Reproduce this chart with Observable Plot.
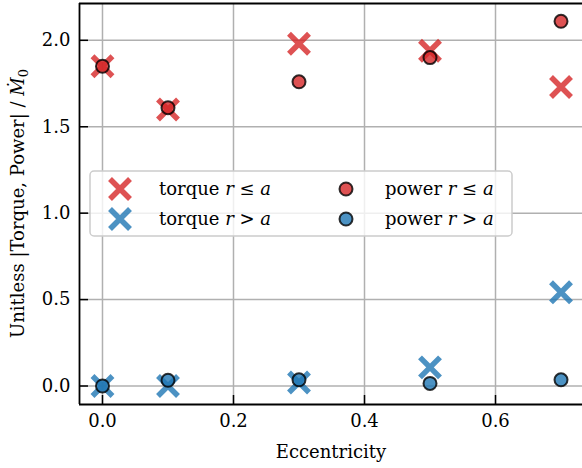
<!DOCTYPE html>
<html><head><meta charset="utf-8">
<script src="https://cdn.jsdelivr.net/npm/d3@7"></script>
<script src="https://cdn.jsdelivr.net/npm/@observablehq/plot@0.6"></script>
<style>body{margin:0;background:#fff} svg{display:block}</style>
</head><body><div id="chart"></div>
<script>
// ---- data ----
const eccentricity = [0, 0.1, 0.3, 0.5, 0.7];
const torqueInner = [1.85, 1.60, 1.98, 1.94, 1.73];
const powerInner  = [1.85, 1.61, 1.76, 1.90, 2.11];
const torqueOuter = [0.00, 0.00, 0.02, 0.108, 0.542];
const powerOuter  = [0.00, 0.033, 0.036, 0.015, 0.036];
const regions = ["r ≤ a", "r > a"];
const regionColors = ["#d62728", "#1f77b4"];
const xTicks = [0, 0.2, 0.4, 0.6];
const xTickLabels = ["0.0", "0.2", "0.4", "0.6"];
const yTicks = [0, 0.5, 1, 1.5, 2];
const yTickLabels = ["0.0", "0.5", "1.0", "1.5", "2.0"];
const xLabel = "Eccentricity";

// ---- tables ----
const torqueRows = eccentricity.flatMap((e, i) => [
  {e, v: torqueInner[i], region: regions[0]},
  {e, v: torqueOuter[i], region: regions[1]}
]);
const powerRows = eccentricity.flatMap((e, i) => [
  {e, v: powerInner[i], region: regions[0]},
  {e, v: powerOuter[i], region: regions[1]}
]);

const W = 582, H = 468, mL = 79, mR = 0, mT = 3, mB = 64;
const innerW = W - mL - mR, innerH = H - mT - mB;
const xDom = [-0.0351, 0.7328], yDom = [-0.107, 2.213];
const FONT = "DejaVu Serif";
const black = "#000";

const plot = Plot.plot({
  width: W, height: H,
  marginLeft: mL, marginRight: mR, marginTop: mT, marginBottom: mB,
  style: {fontFamily: FONT, fontSize: "18px", color: "#000", background: "#fff", overflow: "visible"},
  x: {domain: xDom},
  y: {domain: yDom},
  color: {domain: regions, range: regionColors},
  marks: [
    Plot.gridX(xTicks, {stroke: "#b0b0b0", strokeOpacity: 1, strokeWidth: 1.5}),
    Plot.gridY(yTicks, {stroke: "#b0b0b0", strokeOpacity: 1, strokeWidth: 1.5}),
    Plot.dot(torqueRows, {x: "e", y: "v", symbol: "times", r: 9.15, stroke: "region", strokeWidth: 5.5, strokeOpacity: 0.8}),
    Plot.dot(powerRows, {x: "e", y: "v", r: 6.5, fill: "region", fillOpacity: 0.8, stroke: "#000", strokeOpacity: 0.8, strokeWidth: 2}),
    Plot.ruleX(xTicks, {x: d => d, insetTop: innerH - 9, stroke: black, strokeWidth: 1.5}),
    Plot.ruleY(yTicks, {y: d => d, insetRight: innerW - 9, stroke: black, strokeWidth: 1.5}),
    Plot.ruleX([xDom[0]], {stroke: black, strokeWidth: 1.8}),
    Plot.ruleY([yDom[0], yDom[1]], {stroke: black, strokeWidth: 1.8}),
    Plot.axisX(xTicks, {tickSize: 0, tickPadding: 10, tickFormat: (d) => xTickLabels[xTicks.indexOf(d)], label: null, fontSize: 18}),
    Plot.axisY(yTicks, {tickSize: 0, tickPadding: 9, tickFormat: (d) => yTickLabels[yTicks.indexOf(d)], label: null, fontSize: 18})
  ]
});

const svg = d3.select(plot);
// x label
svg.append("text").attr("x", 331).attr("y", 452).attr("dy", "0.35em")
  .attr("text-anchor", "middle").attr("font-family", FONT).attr("font-size", 18).text(xLabel);
// y label
const yl = svg.append("text").attr("transform", `translate(18,${mT + innerH / 2}) rotate(-90)`)
  .attr("text-anchor", "middle").attr("dy", "0.35em").attr("font-family", FONT).attr("font-size", 18);
yl.append("tspan").text("Unitless |Torque, Power| / ");
yl.append("tspan").attr("font-style", "italic").text("M\u0307");
yl.append("tspan").attr("font-size", 13).attr("dy", "0.3em").text("0");

// legend
const lg = svg.append("g");
lg.append("rect").attr("x", 90).attr("y", 171).attr("width", 422).attr("height", 65).attr("rx", 4)
  .attr("fill", "#fff").attr("fill-opacity", 0.8).attr("stroke", "#cccccc").attr("stroke-width", 1.5);
const rowsY = [189, 219];
regions.forEach((reg, i) => {
  const y = rowsY[i], c = regionColors[i];
  lg.append("path").attr("d", "M-10,-10L10,10M-10,10L10,-10").attr("transform", `translate(120,${y})`)
    .attr("stroke", c).attr("stroke-opacity", 0.8).attr("stroke-width", 5.5).attr("fill", "none");
  lg.append("circle").attr("cx", 346).attr("cy", y).attr("r", 6.5).attr("fill", c).attr("fill-opacity", 0.8)
    .attr("stroke", "#000").attr("stroke-opacity", 0.8).attr("stroke-width", 2);
  const parts = reg.split(" ");
  [["torque", 159], ["power", 385]].forEach(([name, x]) => {
    const t = lg.append("text").attr("x", x).attr("y", y).attr("dy", "0.35em").attr("text-anchor", "start")
      .attr("font-family", FONT).attr("font-size", 18).attr("xml:space", "preserve");
    t.append("tspan").text(name + " ");
    t.append("tspan").attr("font-style", "italic").text(parts[0]);
    t.append("tspan").text(" " + parts[1] + " ");
    t.append("tspan").attr("font-style", "italic").text(parts[2]);
  });
});

document.getElementById("chart").appendChild(plot);
</script>
</body></html>
